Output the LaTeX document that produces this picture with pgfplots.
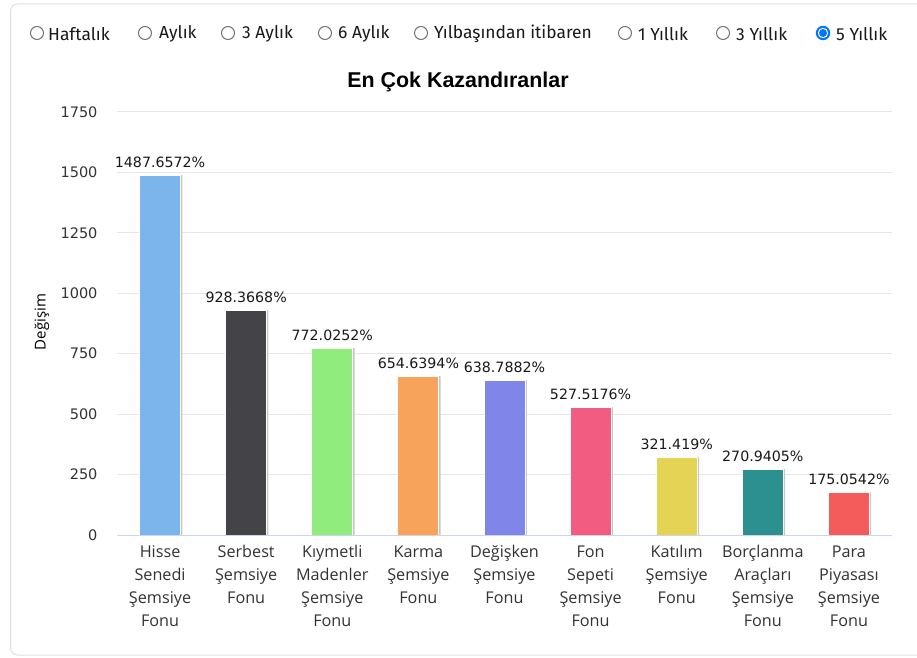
\documentclass[border=0pt]{standalone}
\usepackage{pgfplots}
\pgfplotsset{compat=1.18}
\usepackage{fontspec}
\setmainfont{Open Sans}
\newfontfamily\dejavu{DejaVu Sans}
\newfontfamily\titlefont{Liberation Sans}
\newfontfamily\radiofont{Fira Sans}
\definecolor{c1}{HTML}{7CB5EC}
\definecolor{c2}{HTML}{434348}
\definecolor{c3}{HTML}{90ED7D}
\definecolor{c4}{HTML}{F7A35C}
\definecolor{c5}{HTML}{8085E9}
\definecolor{c6}{HTML}{F15C80}
\definecolor{c7}{HTML}{E4D354}
\definecolor{c8}{HTML}{2B908F}
\definecolor{c9}{HTML}{F45B5B}
\definecolor{gridc}{HTML}{E6E6E6}
\definecolor{axisc}{HTML}{CCD6EB}
\definecolor{txt}{HTML}{333333}
\definecolor{radioblue}{HTML}{0075FF}
\begin{document}
\begin{tikzpicture}[x=1pt,y=1pt]
\useasboundingbox (0,0) rectangle (917,657);
\fill[white] (0,0) rectangle (917,657);
\draw[black!12, line width=1pt, rounded corners=7pt] (10.5,2) rectangle (940,653);
% radio buttons
\foreach \cx in {37,145,228,325,421,625,723}{
  \draw[black!55, line width=1pt] (\cx,624) circle (6.5);
}
\fill[radioblue] (823,624) circle (7.2);
\fill[white] (823,624) circle (5.2);
\fill[radioblue] (823,624) circle (4);
\begin{scope}[every node/.style={anchor=west, inner sep=0pt, text=black!90, font=\radiofont\fontsize{17.4}{20}\selectfont}]
\node at (48,623) {Haftalık};
\node at (159,623) {Aylık};
\node at (242,623) {3 Aylık};
\node at (338,623) {6 Aylık};
\node at (434,623) {Yılbaşından itibaren};
\node at (638,623) {1 Yıllık};
\node at (736,623) {3 Yıllık};
\node at (836,623) {5 Yıllık};
\end{scope}
% title
\node[font=\titlefont\bfseries\fontsize{21.4}{25}\selectfont, text=black] at (458,575.5) {En Çok Kazandıranlar};
% y label
\node[rotate=90, font=\fontsize{15}{18}\selectfont, text=black] at (42,335) {Değişim};
\begin{axis}[
  at={(117pt,122pt)}, anchor=south west,
  scale only axis, width=775pt, height=423pt,
  xmin=-0.5, xmax=8.5, ymin=0, ymax=1750,
  axis line style={draw=none},
  major tick length=0pt,
  ytick={0,250,...,1750},
  ymajorgrids, grid style={gridc, line width=1pt},
  xtick={0,...,8},
  xticklabels={{Hisse\\Senedi\\Şemsiye\\Fonu},{Serbest\\Şemsiye\\Fonu},{Kıymetli\\Madenler\\Şemsiye\\Fonu},{Karma\\Şemsiye\\Fonu},{Değişken\\Şemsiye\\Fonu},{Fon\\Sepeti\\Şemsiye\\Fonu},{Katılım\\Şemsiye\\Fonu},{Borçlanma\\Araçları\\Şemsiye\\Fonu},{Para\\Piyasası\\Şemsiye\\Fonu}},
  xticklabel style={align=center, anchor=north, font=\fontsize{16.2}{23}\selectfont, text=txt, yshift=-7pt},
  yticklabel style={font=\dejavu\fontsize{14.5}{17}\selectfont, text=txt, anchor=east, xshift=-16pt},
  /pgf/number format/assume math mode=true,
  /pgf/number format/1000 sep={},
  ybar, bar width=41pt,
  point meta=explicit symbolic,
  nodes near coords,
  every node near coord/.append style={font=\dejavu\fontsize{14.2}{17}\selectfont, text=black!90, anchor=south, yshift=4pt},
  clip=false,
]
\addplot[bar shift=1.8pt, fill=black!22, draw=none, forget plot, nodes near coords={}] coordinates {(0,1489) (1,930) (2,773.5) (3,656) (4,640) (5,529) (6,323) (7,272.5) (8,176.5)};
\addplot[bar shift=0pt, fill=c1, draw=white, line width=1pt] coordinates {(0,1487.6572) [1487.6572\%]};
\addplot[bar shift=0pt, fill=c2, draw=white, line width=1pt] coordinates {(1,928.3668) [928.3668\%]};
\addplot[bar shift=0pt, fill=c3, draw=white, line width=1pt] coordinates {(2,772.0252) [772.0252\%]};
\addplot[bar shift=0pt, fill=c4, draw=white, line width=1pt] coordinates {(3,654.6394) [654.6394\%]};
\addplot[bar shift=0pt, fill=c5, draw=white, line width=1pt] coordinates {(4,638.7882) [638.7882\%]};
\addplot[bar shift=0pt, fill=c6, draw=white, line width=1pt] coordinates {(5,527.5176) [527.5176\%]};
\addplot[bar shift=0pt, fill=c7, draw=white, line width=1pt] coordinates {(6,321.419) [321.419\%]};
\addplot[bar shift=0pt, fill=c8, draw=white, line width=1pt] coordinates {(7,270.9405) [270.9405\%]};
\addplot[bar shift=0pt, fill=c9, draw=white, line width=1pt] coordinates {(8,175.0542) [175.0542\%]};
\draw[axisc, line width=1pt] (axis cs:-0.5,0) -- (axis cs:8.5,0);
\end{axis}
\end{tikzpicture}
\end{document}
